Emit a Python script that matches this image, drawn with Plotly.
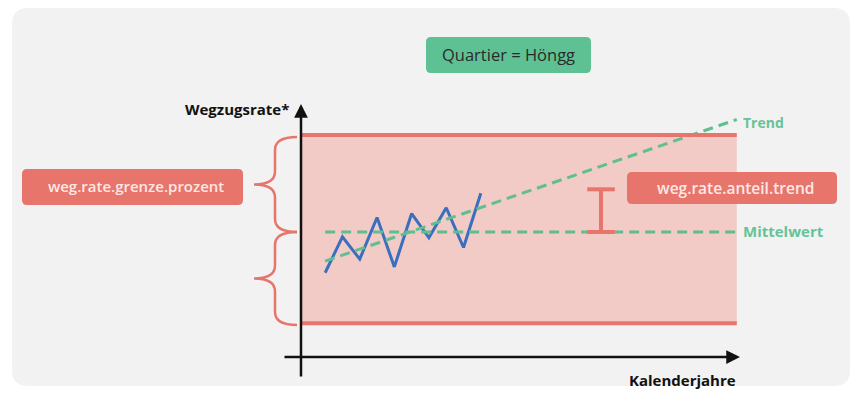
import plotly.graph_objects as go

# ── data (schematic: years vs. Wegzugsrate in %) ─────────────────────────────
YEARS = [2010, 2011, 2012, 2013, 2014, 2015, 2016, 2017, 2018, 2019]
RATE = [7.9, 9.75, 8.6, 10.75, 8.2, 10.95, 9.7, 11.25, 9.2, 12.0]

MEAN_RATE = 10.0
UPPER_LIMIT = 15.0
LOWER_LIMIT = 5.3

TREND_X = [2010, 2033.8]
TREND_Y = [8.5, 15.8]
MEAN_X = [2010, 2033.8]

BAND_X = [2008.6, 2033.8]
ANTEIL_X = 2025.95
ANTEIL_TOP = 12.2

W, H = 857, 393
FONT = "Open Sans"
GREEN = "#5fbf8f"
RED = "#e8756c"
PINK = "#f2cbc7"
BLUE = "#3a6fbf"
LABEL_TXT = "#fde8e4"


def px(x):
    return x / W


def py(y):
    return 1 - y / H


def rounded_rect(x0, y0, x1, y1, r):
    # pixel coords -> paper path with rounded corners
    pts = [
        f"M {px(x0 + r)},{py(y0)}",
        f"L {px(x1 - r)},{py(y0)}",
        f"Q {px(x1)},{py(y0)} {px(x1)},{py(y0 + r)}",
        f"L {px(x1)},{py(y1 - r)}",
        f"Q {px(x1)},{py(y1)} {px(x1 - r)},{py(y1)}",
        f"L {px(x0 + r)},{py(y1)}",
        f"Q {px(x0)},{py(y1)} {px(x0)},{py(y1 - r)}",
        f"L {px(x0)},{py(y0 + r)}",
        f"Q {px(x0)},{py(y0)} {px(x0 + r)},{py(y0)}",
        "Z",
    ]
    return " ".join(pts)


def brace(xr, xs, xt, ytop, ybot, r=13):
    ym = (ytop + ybot) / 2
    pts = [
        f"M {px(xr)},{py(ytop)}",
        f"Q {px(xs)},{py(ytop)} {px(xs)},{py(ytop + r)}",
        f"L {px(xs)},{py(ym - r)}",
        f"Q {px(xs)},{py(ym)} {px(xt)},{py(ym)}",
        f"Q {px(xs)},{py(ym)} {px(xs)},{py(ym + r)}",
        f"L {px(xs)},{py(ybot - r)}",
        f"Q {px(xs)},{py(ybot)} {px(xr)},{py(ybot)}",
    ]
    return " ".join(pts)


fig = go.Figure()

# blue observed series
fig.add_trace(go.Scatter(x=YEARS, y=RATE, mode="lines",
                         line=dict(color=BLUE, width=3), hoverinfo="skip"))
# mean + trend (dashed green)
fig.add_trace(go.Scatter(x=MEAN_X, y=[MEAN_RATE, MEAN_RATE], mode="lines",
                         line=dict(color=GREEN, width=3, dash="10px,6px"), hoverinfo="skip"))
fig.add_trace(go.Scatter(x=TREND_X, y=TREND_Y, mode="lines",
                         line=dict(color=GREEN, width=3, dash="10px,6px"), hoverinfo="skip"))
# I-beam for anteil trend
cap = 0.8
fig.add_trace(go.Scatter(
    x=[ANTEIL_X - cap, ANTEIL_X + cap, None, ANTEIL_X, ANTEIL_X, None, ANTEIL_X - cap, ANTEIL_X + cap],
    y=[ANTEIL_TOP, ANTEIL_TOP, None, ANTEIL_TOP, MEAN_RATE, None, MEAN_RATE, MEAN_RATE],
    mode="lines", line=dict(color=RED, width=4), hoverinfo="skip"))

shapes = [
    dict(type="path", xref="paper", yref="paper", path=rounded_rect(12, 8, 850, 386, 16),
         fillcolor="#f2f2f2", line=dict(width=0), layer="below"),
    dict(type="rect", xref="x", yref="y", x0=BAND_X[0], x1=BAND_X[1],
         y0=LOWER_LIMIT, y1=UPPER_LIMIT, fillcolor=PINK, line=dict(width=0), layer="below"),
    dict(type="line", xref="x", yref="y", x0=BAND_X[0], x1=BAND_X[1],
         y0=UPPER_LIMIT, y1=UPPER_LIMIT, line=dict(color=RED, width=4)),
    dict(type="line", xref="x", yref="y", x0=BAND_X[0], x1=BAND_X[1],
         y0=LOWER_LIMIT, y1=LOWER_LIMIT, line=dict(color=RED, width=4)),
    dict(type="path", xref="paper", yref="paper", path=rounded_rect(426, 37, 591, 73, 5),
         fillcolor="#5ec193", line=dict(width=0)),
    dict(type="path", xref="paper", yref="paper", path=rounded_rect(22, 169, 243, 205, 5),
         fillcolor=RED, line=dict(width=0)),
    dict(type="path", xref="paper", yref="paper", path=rounded_rect(627, 172, 837, 204, 5),
         fillcolor=RED, line=dict(width=0)),
    dict(type="path", xref="paper", yref="paper", path=brace(297, 275, 254, 137, 232),
         line=dict(color=RED, width=2.5)),
    dict(type="path", xref="paper", yref="paper", path=brace(297, 275, 254, 232, 325),
         line=dict(color=RED, width=2.5)),
]

annotations = [
    # axes arrows
    dict(xref="paper", yref="paper", x=px(301), y=py(104), ax=0, ay=274, text="",
         showarrow=True, arrowhead=2, arrowsize=1.1, arrowwidth=2.5, arrowcolor="#111"),
    dict(xref="paper", yref="paper", x=px(740), y=py(357), ax=-457, ay=0, text="",
         showarrow=True, arrowhead=2, arrowsize=1.1, arrowwidth=2.5, arrowcolor="#111"),
    dict(xref="paper", yref="paper", x=px(291), y=py(109), text="<b>Wegzugsrate*</b>",
         showarrow=False, xanchor="right", yanchor="middle", font=dict(size=15, color="#111")),
    dict(xref="paper", yref="paper", x=px(738), y=py(380), text="<b>Kalenderjahre</b>",
         showarrow=False, xanchor="right", yanchor="middle", font=dict(size=15, color="#111")),
    dict(xref="paper", yref="paper", x=px(741), y=py(122), text="<b>Trend</b>",
         showarrow=False, xanchor="left", yanchor="middle", font=dict(size=14, color="#66c397")),
    dict(xref="paper", yref="paper", x=px(741), y=py(231), text="<b>Mittelwert</b>",
         showarrow=False, xanchor="left", yanchor="middle", font=dict(size=15, color="#66c397")),
    dict(xref="paper", yref="paper", x=px(508), y=py(55), text="Quartier = Höngg",
         showarrow=False, xanchor="center", yanchor="middle", font=dict(size=16.5, color="#2a2a2a")),
    dict(xref="paper", yref="paper", x=px(136), y=py(186), text="weg.rate.grenze.prozent",
         showarrow=False, xanchor="center", yanchor="middle",
         font=dict(size=15, color=LABEL_TXT, weight=600)),
    dict(xref="paper", yref="paper", x=px(735), y=py(188), text="weg.rate.anteil.trend",
         showarrow=False, xanchor="center", yanchor="middle",
         font=dict(size=15.5, color=LABEL_TXT, weight=600)),
]

fig.update_layout(
    width=W, height=H, autosize=False,
    margin=dict(l=0, r=0, t=0, b=0),
    paper_bgcolor="white", plot_bgcolor="rgba(0,0,0,0)",
    showlegend=False,
    font=dict(family=FONT),
    xaxis=dict(range=[1991.2, 2040.75], visible=False, fixedrange=True),
    yaxis=dict(range=[1.70, 21.96], visible=False, fixedrange=True),
    shapes=shapes,
    annotations=annotations,
)

fig.write_html("out.html", config={"displayModeBar": False},
               post_script="document.body.style.margin='0';")
